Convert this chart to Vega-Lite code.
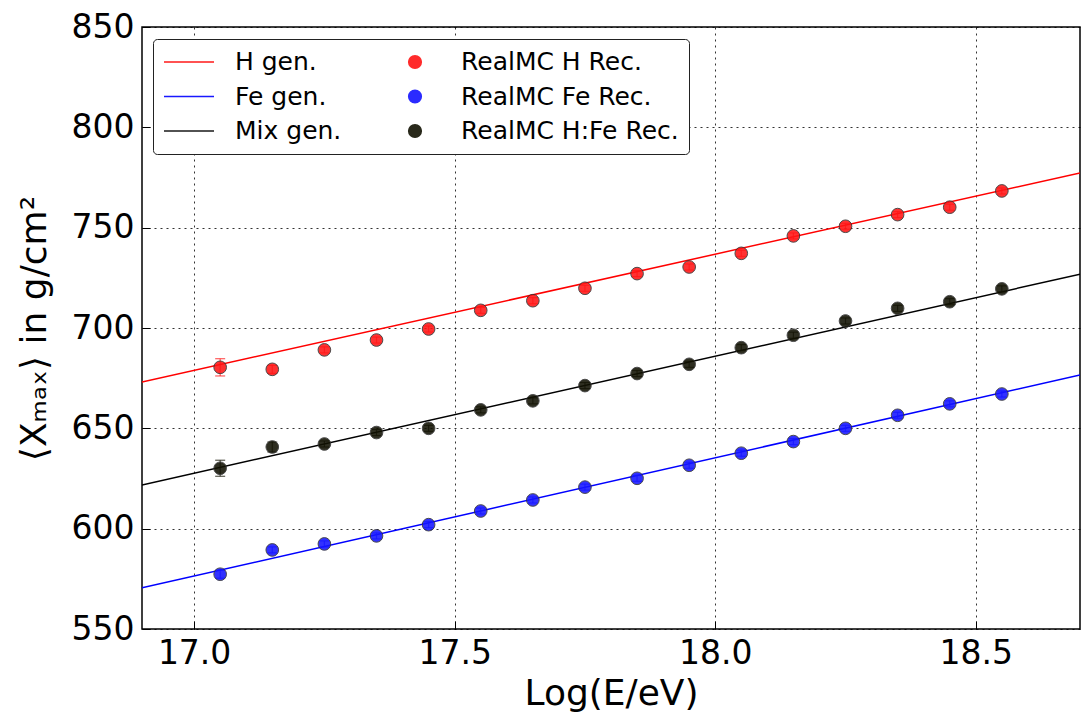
{
  "$schema": "https://vega.github.io/schema/vega-lite/v6.json",
  "width": 938,
  "height": 602,
  "autosize": {"type": "none"},
  "padding": {"left": 142, "top": 27, "right": 1, "bottom": 88},
  "background": "white",
  "config": {
    "font": "DejaVu Sans",
    "view": {"stroke": "black", "strokeWidth": 1.5},
    "axis": {
      "labelFont": "DejaVu Sans",
      "titleFont": "DejaVu Sans",
      "labelFontSize": 33,
      "titleFontSize": 36,
      "titleFontWeight": "normal",
      "labelColor": "black",
      "titleColor": "black",
      "domain": false,
      "tickColor": "black",
      "tickSize": -8,
      "labelPadding": 16,
      "grid": true,
      "gridColor": "black",
      "gridDash": [2, 4],
      "gridOpacity": 0.8,
      "gridWidth": 1
    },
    "legend": {
      "orient": "none",
      "legendX": 11,
      "legendY": 12,
      "columns": 2,
      "direction": "horizontal",
      "labelFont": "DejaVu Sans",
      "labelFontSize": 25,
      "labelColor": "black",
      "labelLimit": 400,
      "labelOffset": 20,
      "fillColor": "white",
      "strokeColor": "#222222",
      "cornerRadius": 4,
      "padding": 10,
      "clipHeight": 26,
      "rowPadding": 8.5,
      "columnPadding": 47,
      "symbolStrokeWidth": 1.5,
      "symbolOpacity": 0.9
    }
  },
  "datasets": {
    "gen": [
      {"series": "H gen.", "x": 16.9, "y": 673.1},
      {"series": "H gen.", "x": 18.7, "y": 777.3},
      {"series": "Fe gen.", "x": 16.9, "y": 570.5},
      {"series": "Fe gen.", "x": 18.7, "y": 676.6},
      {"series": "Mix gen.", "x": 16.9, "y": 621.8},
      {"series": "Mix gen.", "x": 18.7, "y": 726.8}
    ],
    "rec": [
      {"series": "RealMC H Rec.", "x": 17.05, "y": 680.4, "err": 4.3},
      {"series": "RealMC H Rec.", "x": 17.15, "y": 679.4, "err": 2.0},
      {"series": "RealMC H Rec.", "x": 17.25, "y": 689.1, "err": 1.5},
      {"series": "RealMC H Rec.", "x": 17.35, "y": 694.0, "err": 1.5},
      {"series": "RealMC H Rec.", "x": 17.45, "y": 699.5, "err": 1.5},
      {"series": "RealMC H Rec.", "x": 17.55, "y": 708.8, "err": 1.5},
      {"series": "RealMC H Rec.", "x": 17.65, "y": 713.6, "err": 1.5},
      {"series": "RealMC H Rec.", "x": 17.75, "y": 719.8, "err": 1.5},
      {"series": "RealMC H Rec.", "x": 17.85, "y": 727.1, "err": 1.5},
      {"series": "RealMC H Rec.", "x": 17.95, "y": 730.4, "err": 1.5},
      {"series": "RealMC H Rec.", "x": 18.05, "y": 737.2, "err": 1.5},
      {"series": "RealMC H Rec.", "x": 18.15, "y": 745.9, "err": 1.5},
      {"series": "RealMC H Rec.", "x": 18.25, "y": 750.7, "err": 1.5},
      {"series": "RealMC H Rec.", "x": 18.35, "y": 756.5, "err": 1.5},
      {"series": "RealMC H Rec.", "x": 18.45, "y": 760.2, "err": 1.5},
      {"series": "RealMC H Rec.", "x": 18.55, "y": 768.3, "err": 1.5},
      {"series": "RealMC Fe Rec.", "x": 17.05, "y": 577.3, "err": 2.0},
      {"series": "RealMC Fe Rec.", "x": 17.15, "y": 589.4, "err": 1.5},
      {"series": "RealMC Fe Rec.", "x": 17.25, "y": 592.4, "err": 1.5},
      {"series": "RealMC Fe Rec.", "x": 17.35, "y": 596.4, "err": 1.5},
      {"series": "RealMC Fe Rec.", "x": 17.45, "y": 602.0, "err": 1.5},
      {"series": "RealMC Fe Rec.", "x": 17.55, "y": 608.8, "err": 1.5},
      {"series": "RealMC Fe Rec.", "x": 17.65, "y": 614.3, "err": 1.5},
      {"series": "RealMC Fe Rec.", "x": 17.75, "y": 620.7, "err": 1.5},
      {"series": "RealMC Fe Rec.", "x": 17.85, "y": 625.1, "err": 1.5},
      {"series": "RealMC Fe Rec.", "x": 17.95, "y": 631.6, "err": 1.5},
      {"series": "RealMC Fe Rec.", "x": 18.05, "y": 637.6, "err": 1.5},
      {"series": "RealMC Fe Rec.", "x": 18.15, "y": 643.4, "err": 1.5},
      {"series": "RealMC Fe Rec.", "x": 18.25, "y": 650.0, "err": 1.5},
      {"series": "RealMC Fe Rec.", "x": 18.35, "y": 656.5, "err": 1.5},
      {"series": "RealMC Fe Rec.", "x": 18.45, "y": 662.2, "err": 1.5},
      {"series": "RealMC Fe Rec.", "x": 18.55, "y": 667.1, "err": 1.5},
      {"series": "RealMC H:Fe Rec.", "x": 17.05, "y": 630.1, "err": 4.0},
      {"series": "RealMC H:Fe Rec.", "x": 17.15, "y": 640.7, "err": 2.5},
      {"series": "RealMC H:Fe Rec.", "x": 17.25, "y": 642.2, "err": 1.5},
      {"series": "RealMC H:Fe Rec.", "x": 17.35, "y": 647.9, "err": 1.5},
      {"series": "RealMC H:Fe Rec.", "x": 17.45, "y": 650.0, "err": 1.5},
      {"series": "RealMC H:Fe Rec.", "x": 17.55, "y": 659.2, "err": 1.5},
      {"series": "RealMC H:Fe Rec.", "x": 17.65, "y": 663.7, "err": 1.5},
      {"series": "RealMC H:Fe Rec.", "x": 17.75, "y": 671.3, "err": 1.5},
      {"series": "RealMC H:Fe Rec.", "x": 17.85, "y": 677.3, "err": 1.5},
      {"series": "RealMC H:Fe Rec.", "x": 17.95, "y": 681.9, "err": 1.5},
      {"series": "RealMC H:Fe Rec.", "x": 18.05, "y": 690.2, "err": 1.5},
      {"series": "RealMC H:Fe Rec.", "x": 18.15, "y": 696.4, "err": 1.5},
      {"series": "RealMC H:Fe Rec.", "x": 18.25, "y": 703.5, "err": 1.5},
      {"series": "RealMC H:Fe Rec.", "x": 18.35, "y": 709.8, "err": 1.5},
      {"series": "RealMC H:Fe Rec.", "x": 18.45, "y": 713.1, "err": 1.5},
      {"series": "RealMC H:Fe Rec.", "x": 18.55, "y": 719.5, "err": 1.5}
    ]
  },
  "layer": [
    {
      "data": {"name": "gen"},
      "mark": {"type": "line", "strokeWidth": 1.5, "clip": true},
      "encoding": {
        "x": {"field": "x", "type": "quantitative", "scale": {"domain": [16.9, 18.7], "nice": false, "zero": false},
              "axis": {"values": [17.0, 17.5, 18.0, 18.5], "format": ".1f", "title": "Log(E/eV)", "titlePadding": 6}},
        "y": {"field": "y", "type": "quantitative", "scale": {"domain": [550, 850], "nice": false, "zero": false},
              "axis": {"values": [550, 600, 650, 700, 750, 800, 850], "title": "⟨Xₘₐₓ⟩ in g/cm²", "titlePadding": 18}},
        "color": {"field": "series", "type": "nominal",
          "scale": {"domain": ["H gen.", "RealMC H Rec.", "Fe gen.", "RealMC Fe Rec.", "Mix gen.", "RealMC H:Fe Rec."],
                    "range": ["#ff0000", "#ff1515", "#0000ff", "#1515ff", "#000000", "#121203"]},
          "legend": {"title": null}},
        "detail": {"field": "series"}
      }
    },
    {
      "data": {"name": "rec"},
      "mark": {"type": "errorbar", "ticks": {"size": 10, "opacity": 0.7}, "rule": {"opacity": 0.7}, "thickness": 1.2},
      "encoding": {
        "x": {"field": "x", "type": "quantitative", "title": "Log(E/eV)"},
        "y": {"field": "y", "type": "quantitative", "title": "⟨Xₘₐₓ⟩ in g/cm²"},
        "yError": {"field": "err"},
        "color": {"field": "series", "type": "nominal", "legend": null}
      }
    },
    {
      "data": {"name": "rec"},
      "mark": {"type": "point", "filled": true, "opacity": 0.88, "stroke": "#333333", "strokeWidth": 1},
      "encoding": {
        "x": {"field": "x", "type": "quantitative", "title": "Log(E/eV)"},
        "y": {"field": "y", "type": "quantitative", "title": "⟨Xₘₐₓ⟩ in g/cm²"},
        "color": {"field": "series", "type": "nominal"},
        "shape": {"field": "series", "type": "nominal",
          "scale": {"domain": ["H gen.", "RealMC H Rec.", "Fe gen.", "RealMC Fe Rec.", "Mix gen.", "RealMC H:Fe Rec."],
                    "range": ["stroke", "circle", "stroke", "circle", "stroke", "circle"]},
          "legend": {"title": null}},
        "size": {"field": "series", "type": "nominal",
          "scale": {"type": "ordinal", "domain": ["H gen.", "RealMC H Rec.", "Fe gen.", "RealMC Fe Rec.", "Mix gen.", "RealMC H:Fe Rec."],
                    "range": [2500, 160, 2500, 160, 2500, 160]},
          "legend": {"title": null}}
      }
    }
  ],
  "resolve": {"legend": {"color": "shared", "shape": "shared", "size": "shared"}}
}
